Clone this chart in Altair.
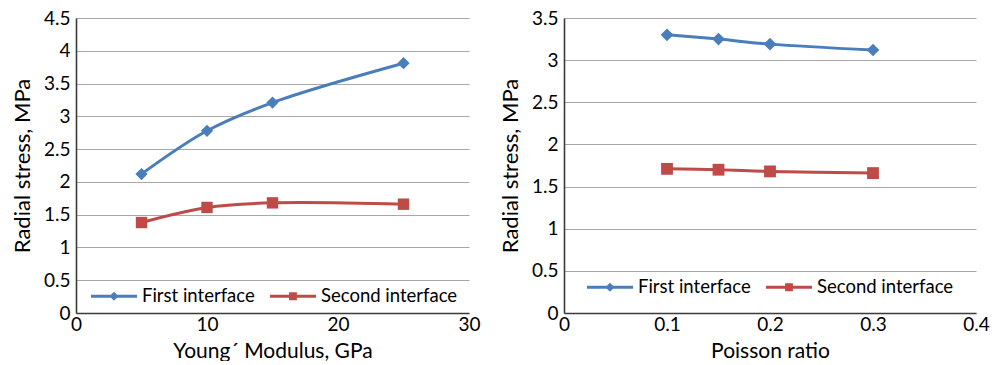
import altair as alt
import pandas as pd

# ---- data ----
series_names = ["First interface", "Second interface"]
young = [5, 10, 15, 25]
young_first = [2.12, 2.78, 3.21, 3.81]
young_second = [1.38, 1.61, 1.68, 1.66]

poisson = [0.1, 0.15, 0.2, 0.3]
poisson_first = [3.30, 3.25, 3.19, 3.12]
poisson_second = [1.71, 1.70, 1.68, 1.66]

young_ticks = [0, 10, 20, 30]
young_yticks = [0, 0.5, 1, 1.5, 2, 2.5, 3, 3.5, 4, 4.5]
poisson_ticks = [0, 0.1, 0.2, 0.3, 0.4]
poisson_yticks = [0, 0.5, 1, 1.5, 2, 2.5, 3, 3.5]

BLUE = "#4A7EBB"
RED = "#BE4B48"
FONT = "Lato"

# legend symbols: a short line with a marker (custom SVG paths in [-1, 1] space)
LINE_BAR = "M-1,-0.065L1,-0.065L1,0.065L-1,0.065Z"
DIAMOND_SYM = LINE_BAR + " M0,-0.2L0.2,0L0,0.2L-0.2,0Z"
SQUARE_SYM = LINE_BAR + " M-0.17,-0.17L0.17,-0.17L0.17,0.17L-0.17,0.17Z"


def make_df(xs, first, second):
    rows = []
    for x, v in zip(xs, first):
        rows.append({"x": x, "y": v, "series": series_names[0]})
    for x, v in zip(xs, second):
        rows.append({"x": x, "y": v, "series": series_names[1]})
    return pd.DataFrame(rows)


def panel(df, xdom, xticks, ydom, yticks, xtitle, width, height,
          legend_x, legend_y, dsize, ssize):
    xenc = alt.X("x:Q", scale=alt.Scale(domain=xdom, nice=False, zero=False),
                 axis=alt.Axis(values=xticks, format="~f", title=xtitle,
                               grid=False, labelFlush=False, labelOverlap=False,
                               labelPadding=2, titlePadding=6))
    yenc = alt.Y("y:Q", scale=alt.Scale(domain=ydom, nice=False, zero=False),
                 axis=alt.Axis(values=yticks, format="~f",
                               title="Radial stress, MPa", grid=True,
                               labelFlush=False, labelOverlap=False,
                               labelPadding=6, titlePadding=9,
                               titleFontSize=22))
    base = alt.Chart(df)
    layers = []
    for name, col, shape, size in [(series_names[0], BLUE, "diamond", dsize),
                                   (series_names[1], RED, "square", ssize)]:
        sub = base.transform_filter(alt.datum.series == name)
        layers.append(sub.mark_line(color=col, strokeWidth=3,
                                    interpolate="catmull-rom")
                      .encode(x=xenc, y=yenc))
        layers.append(sub.mark_point(shape=shape, filled=True, color=col,
                                     size=size, opacity=1)
                      .encode(x=xenc, y=yenc))
    leg = alt.Legend(title=None, legendX=legend_x, legendY=legend_y)
    legend_layer = base.transform_filter("false").mark_point(
        filled=True, size=2116, opacity=1).encode(
        color=alt.Color("series:N",
                        scale=alt.Scale(domain=series_names, range=[BLUE, RED]),
                        legend=leg),
        shape=alt.Shape("series:N",
                        scale=alt.Scale(domain=series_names,
                                        range=[DIAMOND_SYM, SQUARE_SYM]),
                        legend=leg),
    )
    layers.append(legend_layer)
    return alt.layer(*layers).properties(width=width, height=height)


left_df = make_df(young, young_first, young_second)
right_df = make_df(poisson, poisson_first, poisson_second)

left = panel(left_df, [0, 30], young_ticks, [0, 4.5], young_yticks,
             "Young´ Modulus, GPa", 393, 295, 15, 255, 150, 130)
right = panel(right_df, [0, 0.4], poisson_ticks, [0, 3.5], poisson_yticks,
              "Poisson ratio", 412, 295, 23, 246, 160, 140)

legend_common = dict(orient="none", direction="horizontal", padding=0,
                     symbolSize=2116, symbolStrokeWidth=0, labelFont=FONT,
                     labelFontSize=18.5, labelColor="#000000", labelOffset=5,
                     columnPadding=15, symbolOpacity=1)

chart = alt.hconcat(left, right, spacing=18).properties(
    padding={"left": 11, "top": 9, "right": 0, "bottom": 0}
).resolve_scale(color="independent", shape="independent").resolve_legend(
    color="independent", shape="independent"
).configure_view(stroke=None).configure_axis(
    labelFont=FONT, labelFontSize=19, labelColor="#000000",
    titleFont=FONT, titleFontSize=21, titleFontWeight="normal",
    titleColor="#000000", ticks=False, domainColor="#3a3a3a",
    domainWidth=1.6, gridColor="#a8a8a8", gridWidth=1.2,
).configure_legend(**legend_common)

chart.save("out.html", embed_options={"renderer": "svg", "actions": False})
